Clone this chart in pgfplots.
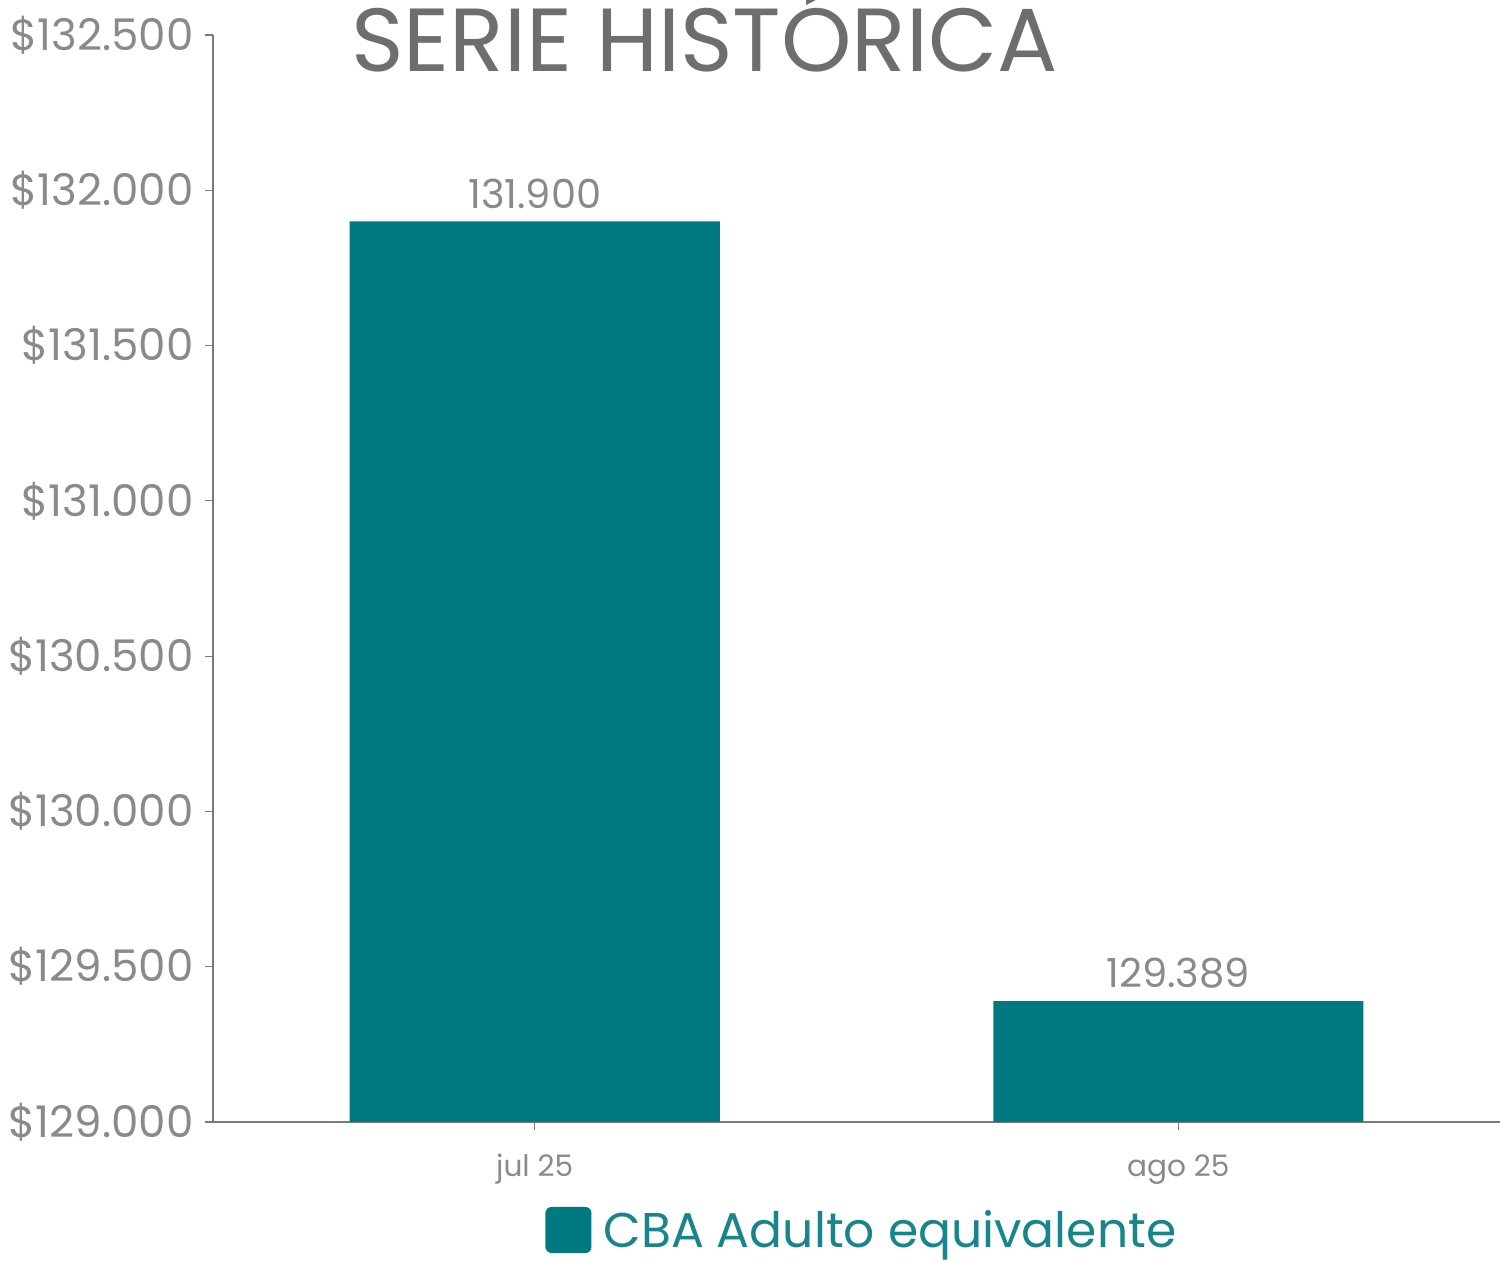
\documentclass[border=0pt]{standalone}
\usepackage{fontspec}
\setmainfont{Poppins}
\usepackage{pgfplots}
\pgfplotsset{compat=1.18}
\definecolor{barteal}{HTML}{007A80}
\definecolor{legteal}{HTML}{17858A}
\definecolor{titlegray}{HTML}{6E6E6E}
\definecolor{tickgray}{HTML}{8A8A8A}
\definecolor{axisgray}{HTML}{7A7A7A}
\begin{document}
\begin{tikzpicture}
\begin{axis}[
  scale only axis,
  width=643.5pt, height=543.5pt,
  xmin=-0.5, xmax=1.5,
  ymin=129000, ymax=132500,
  ytick={129000,129500,130000,130500,131000,131500,132000,132500},
  scaled y ticks=false,
  xtick={0,1},
  xticklabels={jul 25, ago 25},
  axis x line=bottom, axis y line=left,
  axis line style={-, axisgray, line width=0.6pt},
  tick style={axisgray, line width=0.6pt},
  major tick length=4pt,
  tick align=outside,
  /pgf/number format/assume math mode=true,
  /pgf/number format/.cd, fixed, precision=0, 1000 sep={.},
  /pgfplots/.cd,
  yticklabel={\$\pgfmathprintnumber{\tick}},
  yticklabel style={font=\fontsize{21.8}{24}\selectfont, text=tickgray, inner sep=0pt, xshift=-5.5pt},
  xticklabel style={font=\fontsize{14.8}{16}\selectfont, text=tickgray, inner sep=0pt, yshift=-12pt},
  ybar, bar width=185pt,
  clip=false,
  nodes near coords,
  point meta=explicit symbolic,
  nodes near coords style={font=\fontsize{20}{22}\selectfont, text=tickgray, anchor=south, inner sep=0pt, yshift=6pt},
  legend style={at={(rel axis cs:0.505,0)}, anchor=center, yshift=-54pt, draw=none, fill=none,
    font=\fontsize{24.4}{28}\selectfont, text=legteal, inner sep=0pt},
  legend image code/.code={\fill[barteal, rounded corners=3pt] (0pt,-11.5pt) rectangle (23pt,11.5pt);},
  legend cell align=left,
]
\addplot[fill=barteal, draw=none] coordinates {(0,131900)[131.900] (1,129389)[129.389]};
\addlegendentry{\hspace{4pt}CBA Adulto equivalente}
\node[anchor=base, font=\fontsize{44.8}{48}\selectfont, text=titlegray, inner sep=0pt]
  at ([yshift=-18.5pt]rel axis cs:0.382,1) {SERIE HISTÓRICA};
\end{axis}
\pgfresetboundingbox
\useasboundingbox ([shift={(-106.5pt,-70pt)}]current axis.south west) rectangle ([shift={(0.5pt,17.5pt)}]current axis.north east);
\end{tikzpicture}
\end{document}
